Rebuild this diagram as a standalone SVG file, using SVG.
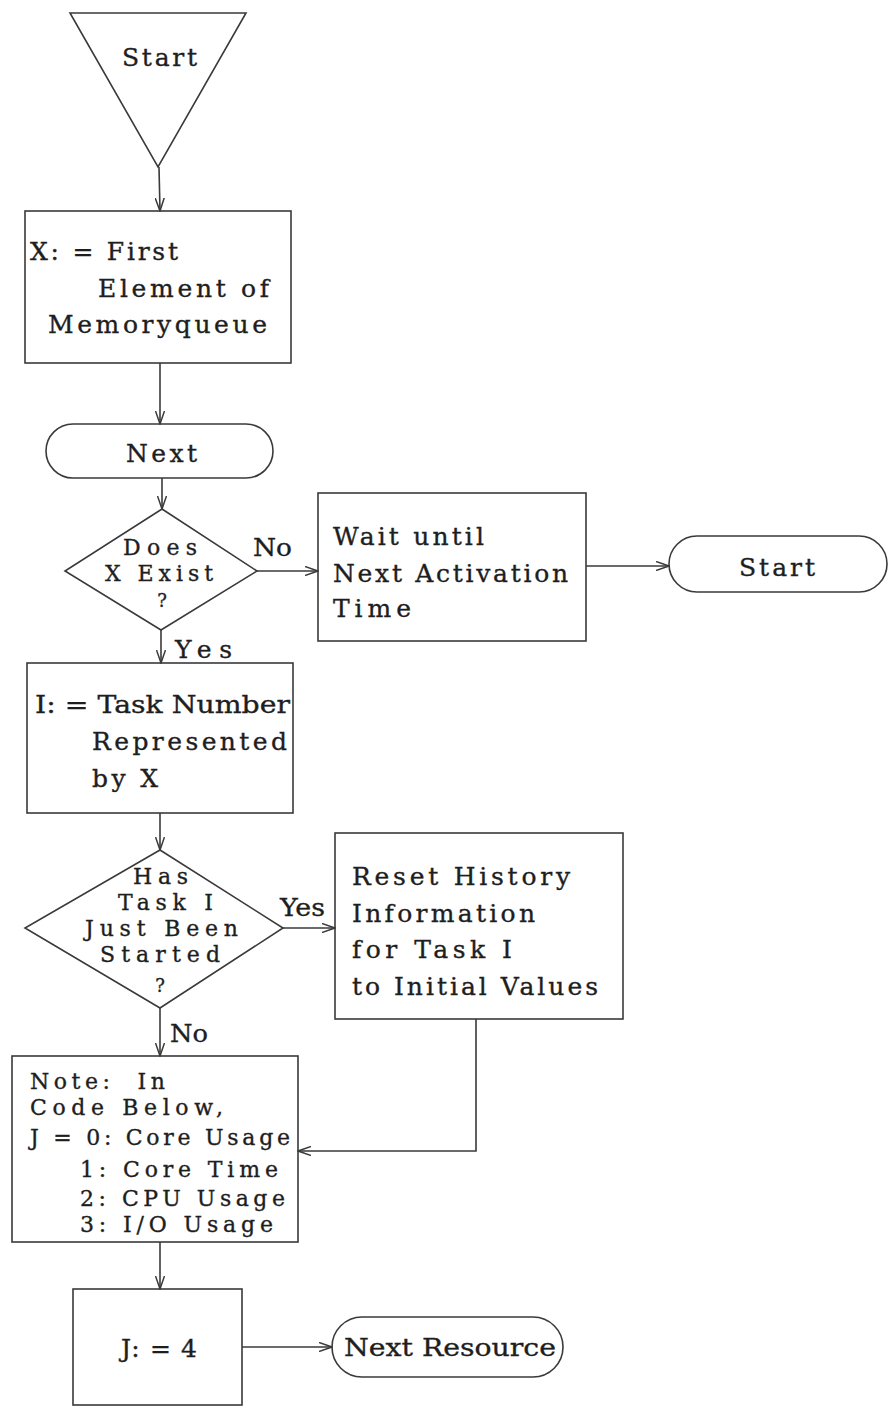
<svg xmlns="http://www.w3.org/2000/svg" width="888" height="1409" viewBox="0 0 888 1409">
<defs>
<style>
.s{fill:none;stroke:#3a3a3a;stroke-width:1.6}
.c{fill:none;stroke:#3a3a3a;stroke-width:1.6}
text{font-family:"DejaVu Serif","Liberation Serif",serif;font-size:25px;fill:#1e1e1e;stroke:#1e1e1e;stroke-width:0.35}
.t{font-size:22px}
.q{font-size:18px;text-anchor:middle}
</style>
<marker id="ah" viewBox="0 0 14 10" refX="13" refY="5" markerWidth="14" markerHeight="10" markerUnits="userSpaceOnUse" orient="auto">
<path d="M0,0.5 L13,5 L0,9.5" fill="none" stroke="#3a3a3a" stroke-width="1.5"/>
</marker>
</defs>
<rect width="888" height="1409" fill="#ffffff"/>
<g id="connectors">
<line class="c" x1="159" y1="167" x2="160" y2="211" marker-end="url(#ah)"/>
<line class="c" x1="160" y1="363" x2="160" y2="424" marker-end="url(#ah)"/>
<line class="c" x1="162" y1="478" x2="162" y2="509" marker-end="url(#ah)"/>
<line class="c" x1="257" y1="571" x2="318" y2="571" marker-end="url(#ah)"/>
<line class="c" x1="586" y1="566" x2="669" y2="566" marker-end="url(#ah)"/>
<line class="c" x1="161" y1="630" x2="161" y2="663" marker-end="url(#ah)"/>
<line class="c" x1="160" y1="813" x2="160" y2="850" marker-end="url(#ah)"/>
<line class="c" x1="283" y1="928" x2="335" y2="928" marker-end="url(#ah)"/>
<line class="c" x1="160" y1="1008" x2="160" y2="1056" marker-end="url(#ah)"/>
<polyline class="c" points="476,1019 476,1151 298,1151" marker-end="url(#ah)"/>
<line class="c" x1="160" y1="1242" x2="160" y2="1289" marker-end="url(#ah)"/>
<line class="c" x1="242" y1="1347" x2="332" y2="1347" marker-end="url(#ah)"/>
<text x="253" y="556" textLength="39" lengthAdjust="spacingAndGlyphs">No</text>
<text x="175" y="658" textLength="57" lengthAdjust="spacing">Yes</text>
<text x="280" y="916" textLength="45" lengthAdjust="spacingAndGlyphs">Yes</text>
<text x="170" y="1042" textLength="38" lengthAdjust="spacingAndGlyphs">No</text>
</g>
<g id="start">
<polygon class="s" points="70,13 246,13 158,167"/>
<text x="122" y="66" textLength="75" lengthAdjust="spacing">Start</text>
</g>
<g id="first-element">
<rect class="s" x="25" y="211" width="266" height="152"/>
<text x="30" y="260" textLength="148" lengthAdjust="spacing">X: = First</text>
<text x="98" y="297" textLength="171" lengthAdjust="spacing">Element of</text>
<text x="48" y="333" textLength="219" lengthAdjust="spacing">Memoryqueue</text>
</g>
<g id="next">
<rect class="s" x="46" y="424" width="227" height="54" rx="27" ry="27"/>
<text x="126" y="462" textLength="71" lengthAdjust="spacing">Next</text>
</g>
<g id="x-exist">
<polygon class="s" points="162,509 257,571 161,630 65,571"/>
<text class="t" x="123" y="555" textLength="74" lengthAdjust="spacing">Does</text>
<text class="t" x="105" y="581" textLength="108" lengthAdjust="spacing">X Exist</text>
<text class="q" x="162" y="607">?</text>
</g>
<g id="wait">
<rect class="s" x="318" y="493" width="268" height="148"/>
<text x="333" y="545" textLength="151" lengthAdjust="spacing">Wait until</text>
<text x="333" y="582" textLength="235" lengthAdjust="spacing">Next Activation</text>
<text x="333" y="617" textLength="78" lengthAdjust="spacing">Time</text>
</g>
<g id="start-terminal">
<rect class="s" x="669" y="536" width="218" height="56" rx="28" ry="28"/>
<text x="739" y="576" textLength="76" lengthAdjust="spacing">Start</text>
</g>
<g id="task-number">
<rect class="s" x="27" y="663" width="266" height="150"/>
<text x="35" y="713" textLength="255" lengthAdjust="spacingAndGlyphs">I: = Task Number</text>
<text x="92" y="750" textLength="195" lengthAdjust="spacing">Represented</text>
<text x="92" y="787" textLength="66" lengthAdjust="spacing">by X</text>
</g>
<g id="just-started">
<polygon class="s" points="160,850 283,928 160,1008 25,928"/>
<text class="t" x="133" y="884" textLength="55" lengthAdjust="spacing">Has</text>
<text class="t" x="118" y="910" textLength="95" lengthAdjust="spacing">Task I</text>
<text class="t" x="85" y="936" textLength="153" lengthAdjust="spacing">Just Been</text>
<text class="t" x="100" y="962" textLength="120" lengthAdjust="spacing">Started</text>
<text class="q" x="160" y="992">?</text>
</g>
<g id="reset-history">
<rect class="s" x="335" y="833" width="288" height="186"/>
<text x="352" y="885" textLength="218" lengthAdjust="spacing">Reset History</text>
<text x="352" y="922" textLength="183" lengthAdjust="spacing">Information</text>
<text x="352" y="958" textLength="160" lengthAdjust="spacing">for Task I</text>
<text x="352" y="995" textLength="246" lengthAdjust="spacing">to Initial Values</text>
</g>
<g id="note">
<rect class="s" x="12" y="1056" width="286" height="186"/>
<text class="t" x="30" y="1089" textLength="135" lengthAdjust="spacing" xml:space="preserve">Note:  In</text>
<text class="t" x="30" y="1115" textLength="193" lengthAdjust="spacing">Code Below,</text>
<text class="t" x="30" y="1145" textLength="260" lengthAdjust="spacing">J = 0: Core Usage</text>
<text class="t" x="80" y="1177" textLength="198" lengthAdjust="spacing">1: Core Time</text>
<text class="t" x="80" y="1206" textLength="205" lengthAdjust="spacing">2: CPU Usage</text>
<text class="t" x="80" y="1232" textLength="193" lengthAdjust="spacing">3: I/O Usage</text>
</g>
<g id="j-assign">
<rect class="s" x="73" y="1289" width="169" height="116"/>
<text x="121" y="1357" textLength="76" lengthAdjust="spacing">J: = 4</text>
</g>
<g id="next-resource">
<rect class="s" x="332" y="1317" width="231" height="60" rx="30" ry="30"/>
<text x="344" y="1356" textLength="212" lengthAdjust="spacingAndGlyphs">Next Resource</text>
</g>
</svg>
